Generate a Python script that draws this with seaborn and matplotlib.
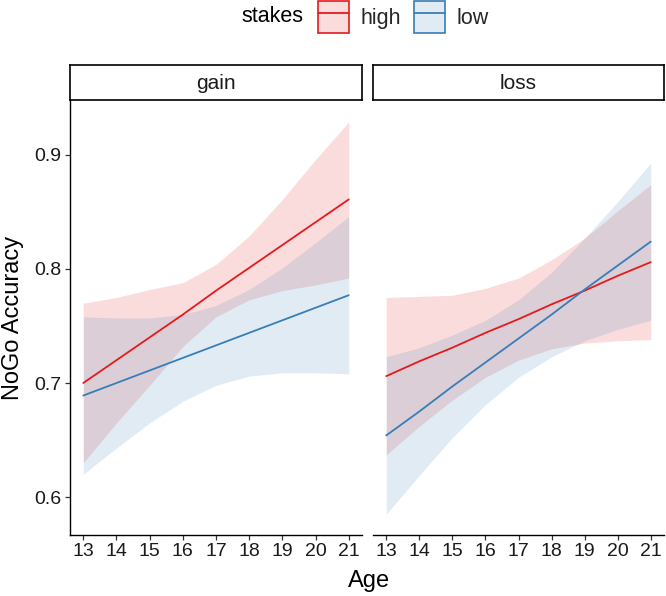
import seaborn as sns
import matplotlib.pyplot as plt
import pandas as pd
from matplotlib.patches import Patch
from matplotlib.lines import Line2D

# data
ages = [13, 14, 15, 16, 17, 18, 19, 20, 21]

gain_high = [0.700, 0.720, 0.740, 0.760, 0.781, 0.801, 0.821, 0.841, 0.861]
gain_high_lo = [0.630, 0.665, 0.698, 0.732, 0.758, 0.773, 0.781, 0.786, 0.792]
gain_high_hi = [0.770, 0.775, 0.782, 0.788, 0.804, 0.829, 0.861, 0.896, 0.929]

gain_low = [0.689, 0.700, 0.711, 0.722, 0.733, 0.744, 0.755, 0.766, 0.777]
gain_low_lo = [0.620, 0.643, 0.665, 0.684, 0.698, 0.706, 0.709, 0.709, 0.708]
gain_low_hi = [0.758, 0.757, 0.757, 0.760, 0.768, 0.782, 0.801, 0.823, 0.846]

loss_high = [0.706, 0.719, 0.731, 0.744, 0.756, 0.769, 0.781, 0.794, 0.806]
loss_high_lo = [0.637, 0.662, 0.685, 0.705, 0.720, 0.730, 0.735, 0.737, 0.738]
loss_high_hi = [0.775, 0.776, 0.777, 0.783, 0.792, 0.808, 0.827, 0.851, 0.874]

loss_low = [0.654, 0.675, 0.697, 0.718, 0.739, 0.760, 0.782, 0.803, 0.824]
loss_low_lo = [0.585, 0.619, 0.652, 0.681, 0.705, 0.723, 0.737, 0.747, 0.755]
loss_low_hi = [0.723, 0.731, 0.742, 0.755, 0.773, 0.797, 0.827, 0.859, 0.893]

panels = ["gain", "loss"]
stakes = ["high", "low"]
colors = {"high": "#E41A1C", "low": "#377EB8"}

series = {
    ("gain", "high"): (gain_high, gain_high_lo, gain_high_hi),
    ("gain", "low"): (gain_low, gain_low_lo, gain_low_hi),
    ("loss", "high"): (loss_high, loss_high_lo, loss_high_hi),
    ("loss", "low"): (loss_low, loss_low_lo, loss_low_hi),
}

rows = []
for (panel, st), (fit, lo, hi) in series.items():
    for a, f, l, h in zip(ages, fit, lo, hi):
        rows.append({"panel": panel, "stakes": st, "Age": a, "acc": f, "lo": l, "hi": h})
df = pd.DataFrame(rows)

sns.set_style("ticks")
plt.rcParams["font.family"] = ["Liberation Sans", "DejaVu Sans"]

W, H = 666, 596
fig = plt.figure(figsize=(W / 100, H / 100), dpi=100)

def fx(px):
    return px / W

def fy(py):
    return 1 - py / H

panel_box = {"gain": (70, 362), "loss": (373, 664)}
strip_top, top, bottom = 65, 100, 535
txt = "#1a1a1a"

for panel in panels:
    x0, x1 = panel_box[panel]
    ax = fig.add_axes([fx(x0), fy(bottom), fx(x1 - x0), (bottom - top) / H])
    sub = df[df["panel"] == panel]
    for st in stakes:
        d = sub[sub["stakes"] == st]
        ax.fill_between(d["Age"], d["lo"], d["hi"], color=colors[st], alpha=0.15, lw=0)
    sns.lineplot(data=sub, x="Age", y="acc", hue="stakes", hue_order=stakes,
                 palette=colors, ax=ax, lw=1.3, legend=False)
    ax.set_xlim(12.6, 21.4)
    ax.set_ylim(0.5667, 0.9482)
    ax.set_xticks(ages)
    ax.set_yticks([0.6, 0.7, 0.8, 0.9])
    ax.set_xlabel("")
    ax.set_ylabel("")
    ax.tick_params(labelsize=14, length=3.6, width=0.9, color="#333333", labelcolor=txt, pad=2.5)
    for s in ["top", "right"]:
        ax.spines[s].set_visible(False)
    ax.spines["bottom"].set_linewidth(1.0)
    ax.spines["left"].set_linewidth(1.0)
    ax.spines["bottom"].set_color("black")
    ax.spines["left"].set_color("black")
    if panel == "loss":
        ax.spines["left"].set_visible(False)
        ax.tick_params(axis="y", left=False, labelleft=False)

    # facet strip
    sax = fig.add_axes([fx(x0), fy(top), fx(x1 - x0), (top - strip_top) / H])
    sax.set_xticks([])
    sax.set_yticks([])
    for s in sax.spines.values():
        s.set_visible(True)
        s.set_linewidth(1.2)
        s.set_color("black")
    sax.text(0.5, 0.47, panel, ha="center", va="center", fontsize=15, color=txt,
             transform=sax.transAxes)

fig.text(fx(368.7), fy(581), "Age", ha="center", va="center", fontsize=17, color="black")
fig.text(fx(13), fy(318), "NoGo Accuracy", ha="center", va="center", fontsize=17,
         rotation=90, color="black")

# legend on top
fig.text(fx(241), fy(17), "stakes", ha="left", va="center", fontsize=15.5, color="black")
handles = [(Patch(facecolor=colors[s], alpha=0.15, edgecolor="none"),
            Patch(facecolor="none", edgecolor=colors[s], lw=1.2),
            Line2D([], [], color=colors[s], lw=1.3)) for s in stakes]
fig.legend(handles, stakes, loc="center left", bbox_to_anchor=(fx(317.5), fy(17)),
           ncol=2, frameon=False, fontsize=15.5, handlelength=1.47, handleheight=1.84,
           handletextpad=0.53, columnspacing=0.59, borderpad=0, borderaxespad=0)

fig.savefig("out.png", dpi=100)
